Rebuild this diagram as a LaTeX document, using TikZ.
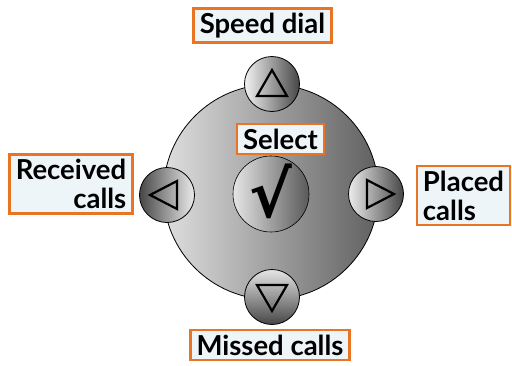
\documentclass[tikz,border=0pt]{standalone}
\usepackage{fontspec}
\setmainfont{Lato}
\newfontfamily\symfont{DejaVu Sans}
\usepackage{xcolor}
\definecolor{boxorange}{HTML}{E87424}
\definecolor{boxfill}{HTML}{EEF5F9}
\tikzset{
  labelbox/.style={draw=boxorange, line width=2.6pt, fill=boxfill,
    font=\fontsize{27.5}{29}\selectfont\bfseries, inner xsep=6pt, inner ysep=4.5pt},
  key/.style={circle, draw=black, line width=0.8pt, minimum size=55pt, inner sep=0pt},
  tri/.style={draw=black, line width=2.2pt, line join=miter},
}

\begin{document}
\begin{tikzpicture}[x=1pt,y=-1pt]
  \useasboundingbox (0,0) rectangle (512,365);
  % dial body
  \node[circle, draw=black, line width=0.8pt, minimum size=215pt,
    left color=gray!25, right color=gray!75!black] (dial) at (271,192) {};
  % direction keys
  \node[key, left color=gray!10, right color=gray!55!black] (upkey) at (272,84) {};
  \node[key, top color=gray!20, bottom color=gray!55!black] (downkey) at (272,297) {};
  \node[key, left color=gray!55!black, right color=gray!15] (leftkey) at (167,195) {};
  \node[key, left color=gray!15, right color=gray!55!black] (rightkey) at (376,194) {};
  \node[circle, draw=black, line width=0.6pt, minimum size=76pt,
    left color=gray!20, right color=gray!70!black] (selkey) at (271,194) {};
  \node[font=\symfont\bfseries\fontsize{64}{64}\selectfont] (check) at ([yshift=3]selkey.center) {√};
  % arrows on the keys
  \draw[tri] ([shift={(0,-14)}]upkey.center) -- ([shift={(15,12)}]upkey.center)
    -- ([shift={(-15,12)}]upkey.center) -- cycle;
  \draw[tri] ([shift={(0,14)}]downkey.center) -- ([shift={(15,-12)}]downkey.center)
    -- ([shift={(-15,-12)}]downkey.center) -- cycle;
  \draw[tri] ([shift={(-17,0)}]leftkey.center) -- ([shift={(10,-14)}]leftkey.center)
    -- ([shift={(10,14)}]leftkey.center) -- cycle;
  \draw[tri] ([shift={(18,0)}]rightkey.center) -- ([shift={(-9,-14)}]rightkey.center)
    -- ([shift={(-9,14)}]rightkey.center) -- cycle;
  % labels
  \node[labelbox] (speedlbl) at (262.5,25.5) {Speed dial};
  \node[labelbox] (sellbl) at (280.5,139) {Select};
  \node[labelbox, align=right] (reclbl) at (71,184) {Received\\calls};
  \node[labelbox, align=left] (placedlbl) at (463.5,195.5) {Placed\\calls};
  \node[labelbox] (missedlbl) at (270,345) {Missed calls};
\end{tikzpicture}
\end{document}
